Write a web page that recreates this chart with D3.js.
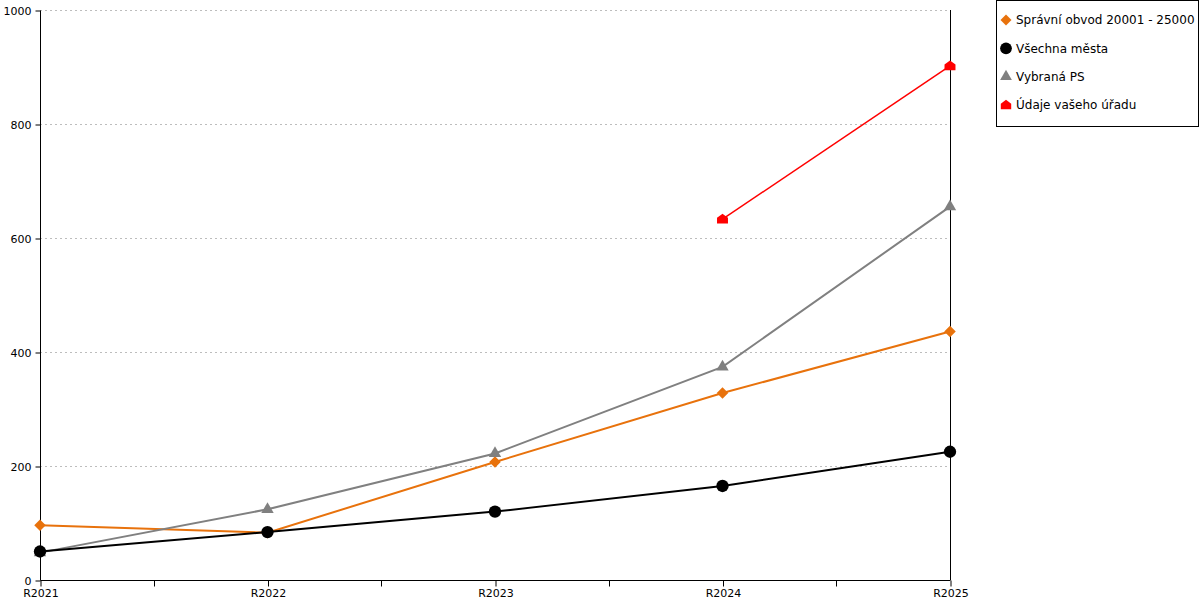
<!DOCTYPE html>
<html><head><meta charset="utf-8">
<script src="https://cdn.jsdelivr.net/npm/d3@7"></script>
<style>body{margin:0;background:#fff}svg{display:block;font-family:"DejaVu Sans",Verdana,sans-serif}</style>
</head><body>
<svg id="c" width="1200" height="600"></svg>
<script>
const categories = ["R2021","R2022","R2023","R2024","R2025"];
const yTicks = [0,200,400,600,800,1000];
const obvodValues = [96, 83, 207, 328, 436];
const mestaValues = [50, 84, 120, 165, 225];
const psValues = [48, 124, 222, 374, 655];
const uradValues = [null, null, null, 633, 902];
const seriesNames = ["Správní obvod 20001 - 25000","Všechna města","Vybraná PS","Údaje vašeho úřadu"];

const series = [
  {name: seriesNames[0], values: obvodValues, color: "#e8720c", sym: "diamond", w: 2},
  {name: seriesNames[1], values: mestaValues, color: "#000000", sym: "circle", w: 2},
  {name: seriesNames[2], values: psValues, color: "#808080", sym: "triangle", w: 2},
  {name: seriesNames[3], values: uradValues, color: "#ff0000", sym: "house", w: 1.5}
];

const svg = d3.select("#c");
const L = 40, R = 950, T = 10, B = 580;
const x = d3.scalePoint().domain(categories).range([L, R]);
const y = d3.scaleLinear().domain([0, 1000]).range([B, T]);

// grid
svg.append("g").selectAll("line").data(yTicks.filter(d => d > 0)).join("line")
  .attr("x1", L).attr("x2", R).attr("y1", d => y(d) + 0.5).attr("y2", d => y(d) + 0.5)
  .attr("stroke", "#bdbdbd").attr("stroke-dasharray", "2,3");

// y axis
const ya = svg.append("g").attr("transform", `translate(${L + 0.5},0.5)`)
  .call(d3.axisLeft(y).tickValues(yTicks).tickSize(5).tickPadding(4).tickFormat(d3.format("d")));
ya.select(".domain").attr("stroke", "#000").attr("d", `M0,${B}V${T}`);
ya.selectAll("text").attr("font-size", 11).attr("fill","#000");
ya.selectAll("line").attr("stroke","#000");
ya.attr("font-family", null);

// x axis
const xa = svg.append("g").attr("transform", `translate(0.5,${B + 0.5})`)
  .call(d3.axisBottom(x).tickSize(6).tickPadding(3));
xa.select(".domain").attr("stroke", "#000").attr("d", `M${L},0H${R}`);
xa.selectAll("text").attr("font-size", 11).attr("fill","#000");
xa.selectAll("line").attr("stroke","#000");
xa.attr("font-family", null);
// minor ticks between categories
const mids = categories.slice(1).map((c, i) => Math.round((x(c) + x(categories[i])) / 2));
xa.selectAll(".minor").data(mids).join("line").attr("class","minor")
  .attr("x1", d => d).attr("x2", d => d).attr("y1", 0).attr("y2", 6).attr("stroke", "#000");

// right axis line
svg.append("line").attr("x1", R + 0.5).attr("x2", R + 0.5).attr("y1", T).attr("y2", B)
  .attr("stroke", "#000");

// symbols
const house = {
  draw(ctx, size) {
    const s = Math.sqrt(size) / 2;
    ctx.moveTo(0, -s);
    ctx.lineTo(s, -s * 0.25);
    ctx.lineTo(s, s * 0.8);
    ctx.lineTo(-s, s * 0.8);
    ctx.lineTo(-s, -s * 0.25);
    ctx.closePath();
  }
};
function symPath(kind) {
  if (kind === "diamond") return d3.symbol(d3.symbolDiamond2, 85)();
  if (kind === "circle") return d3.symbol(d3.symbolCircle, 120)();
  if (kind === "triangle") return d3.symbol(d3.symbolTriangle2, 110)();
  return d3.symbol(house, 120)();
}

const line = d3.line().defined(d => d.v != null).x(d => x(d.c)).y(d => y(d.v));
const order = [0, 2, 1, 3];
order.forEach(i => {
  const s = series[i];
  const pts = categories.map((c, k) => ({c, v: s.values[k]}));
  svg.append("path").datum(pts).attr("d", line).attr("fill", "none")
    .attr("stroke", s.color).attr("stroke-width", s.w);
});
order.forEach(i => {
  const s = series[i];
  const pts = categories.map((c, k) => ({c, v: s.values[k]})).filter(d => d.v != null);
  svg.append("g").selectAll("path").data(pts).join("path")
    .attr("d", symPath(s.sym))
    .attr("transform", d => `translate(${x(d.c)},${y(d.v)})`)
    .attr("fill", s.color);
});

// legend
const lg = svg.append("g");
lg.append("rect").attr("x", 996.5).attr("y", 0.5).attr("width", 202).attr("height", 126)
  .attr("fill", "#fff").attr("stroke", "#000");
const ly = d3.scalePoint().domain(seriesNames).range([20, 105]);
series.forEach(s => {
  lg.append("path").attr("d", symPath(s.sym))
    .attr("transform", `translate(1006,${ly(s.name)}) scale(0.95)`).attr("fill", s.color);
  lg.append("text").attr("x", 1016).attr("y", ly(s.name)).attr("dy", "0.35em")
    .attr("font-size", 12).text(s.name);
});
</script>
</body></html>
